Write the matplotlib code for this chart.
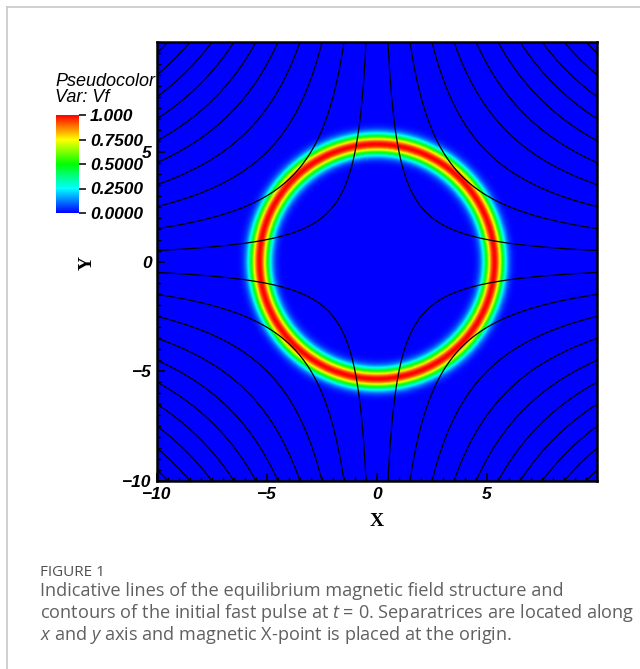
import numpy as np
import matplotlib
matplotlib.use("Agg")
import matplotlib.pyplot as plt
from matplotlib.colors import LinearSegmentedColormap
from matplotlib.lines import Line2D

# ---- data / model parameters ----
x_range = [-10.0, 10.0]
y_range = [-10.0, 10.0]
ring_radius = 5.35          # radius of the initial fast pulse
ring_width = 0.44           # gaussian width of the pulse
flux_levels = [-95, -85, -75, -65, -55, -45, -35, -25, -15, -5,
               5, 15, 25, 35, 45, 55, 65, 75, 85, 95]   # levels of A = x*y
cbar_ticks = [0.0, 0.25, 0.5, 0.75, 1.0]
cbar_ticklabels = ["0.0000", "0.2500", "0.5000", "0.7500", "1.000"]
x_ticks = [-10, -5, 0, 5]
y_ticks = [-10, -5, 0, 5]
caption_title = "FIGURE 1"
caption_lines = [
    "Indicative lines of the equilibrium magnetic field structure and",
    "contours of the initial fast pulse at $t$ = 0. Separatrices are located along",
    "$x$ and $y$ axis and magnetic X-point is placed at the origin.",
]

plt.rcParams['mathtext.fontset'] = 'custom'
plt.rcParams['mathtext.rm'] = 'Open Sans'
plt.rcParams['mathtext.it'] = 'Open Sans:italic'

# VisIt "hot" colour table
cmap = LinearSegmentedColormap.from_list(
    "visit_hot",
    [(0.0, (0, 0, 1)), (0.25, (0, 1, 1)), (0.5, (0, 1, 0)),
     (0.75, (1, 1, 0)), (1.0, (1, 0, 0))])

W, H = 640, 669
fig = plt.figure(figsize=(W / 100, H / 100), dpi=100)

# card border
fig.add_artist(Line2D([7 / W, 1.0], [1 - 7 / H, 1 - 7 / H], color="#c8c8c8", lw=1.2,
                      transform=fig.transFigure))
fig.add_artist(Line2D([7 / W, 7 / W], [0.0, 1 - 7 / H], color="#c8c8c8", lw=1.2,
                      transform=fig.transFigure))

ax = fig.add_axes([157 / W, 1 - 481 / H, 440 / W, 439 / H])

n = 800
xs = np.linspace(x_range[0], x_range[1], n)
ys = np.linspace(y_range[0], y_range[1], n)
X, Y = np.meshgrid(xs, ys)
R = np.sqrt(X ** 2 + Y ** 2)
Vf = np.exp(-((R - ring_radius) / ring_width) ** 2)

im = ax.imshow(Vf, extent=[x_range[0], x_range[1], y_range[0], y_range[1]],
               origin="lower", cmap=cmap, vmin=0, vmax=1, interpolation="bilinear",
               aspect="auto")
ax.contour(X, Y, X * Y, levels=flux_levels, colors="k", linewidths=0.9,
           linestyles="solid", negative_linestyles="solid")

ax.set_xlim(x_range)
ax.set_ylim(y_range)
ax.set_xticks(x_ticks)
ax.set_yticks(y_ticks)
ax.set_xticks(np.arange(-10, 10.01, 0.5), minor=True)
ax.set_yticks(np.arange(-10, 10.01, 0.5), minor=True)
ax.tick_params(which="both", direction="in", top=False, right=False, color="k")
ax.tick_params(which="major", length=6, width=1.2, pad=4)
ax.tick_params(which="minor", length=3, width=1.0)
tick_font = dict(family="Liberation Sans", weight="bold", style="italic", size=12.5)
ax.set_xticklabels([str(v).replace("-", "\u2212") for v in x_ticks], **tick_font)
ax.set_yticklabels([str(v).replace("-", "\u2212") for v in y_ticks], **tick_font)
for s in ax.spines.values():
    s.set_linewidth(1.8)

fig.text(377 / W, 1 - 521 / H, "X", family="Liberation Serif", weight="bold",
         size=14, ha="center", va="center")
fig.text(87 / W, 1 - 263 / H, "Y", family="Liberation Serif", weight="bold",
         size=14, ha="center", va="center", rotation=90)

# colour bar legend
cax = fig.add_axes([56 / W, 1 - 213 / H, 23 / W, 98 / H])
cb = fig.colorbar(im, cax=cax, ticks=cbar_ticks)
cb.outline.set_visible(False)
cax.tick_params(length=5, width=1.3, pad=3, color="#222222")
cax.set_yticklabels(cbar_ticklabels, **tick_font)
fig.text(55 / W, 1 - 82 / H, "Pseudocolor", family="Liberation Sans", style="italic",
         size=13, ha="left", va="center")
fig.text(55 / W, 1 - 98 / H, "Var: Vf", family="Liberation Sans", style="italic",
         size=13, ha="left", va="center")

# caption
fig.text(40 / W, 1 - 572 / H, caption_title, family="Open Sans", size=11,
         color="#505050", ha="left", va="center")
for i, line in enumerate(caption_lines):
    fig.text(40 / W, 1 - (591 + 22 * i) / H, line, family="Open Sans", size=13.1,
             color="#606060", ha="left", va="center")

fig.savefig("out.png", dpi=100)
